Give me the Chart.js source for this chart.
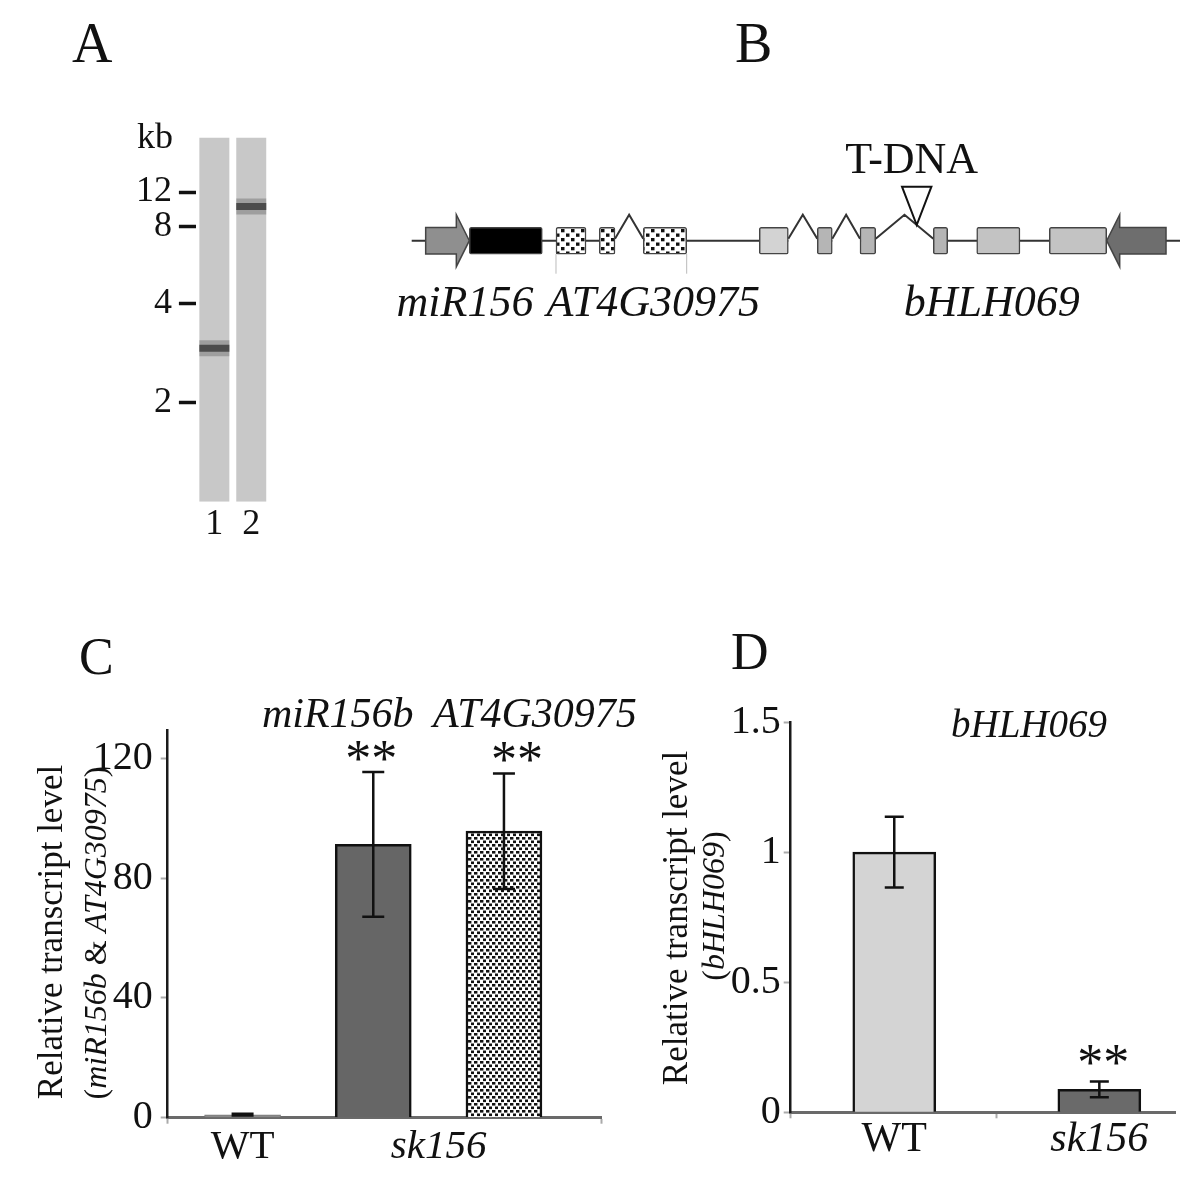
<!DOCTYPE html>
<html>
<head>
<meta charset="utf-8">
<title>sk156 figure</title>
<script src="https://cdn.jsdelivr.net/npm/chart.js@4.4.1/dist/chart.umd.min.js"></script>
<style>
  html, body { margin: 0; padding: 0; background: #fff; }
  body { position: relative; width: 1200px; height: 1203px; overflow: hidden; }
  canvas { position: absolute; }
  .letter { position: absolute; font-family: 'Liberation Serif', 'Times New Roman', serif; color: #111; }
  .big { font-size: 56px; line-height: 56px; }
  .mid { font-size: 52px; line-height: 52px; }
</style>
</head>
<body>
<div class="letter big" style="left:72px; top:15px">A</div>
<div class="letter big" style="left:735px; top:15px">B</div>
<div class="letter mid" style="left:79px; top:631px">C</div>
<div class="letter mid" style="left:731px; top:626px">D</div>

<canvas id="gel" width="200" height="460" style="left:100px; top:100px"></canvas>
<canvas id="locus" width="820" height="220" style="left:380px; top:120px"></canvas>
<canvas id="chartC" width="640" height="583" style="left:0px; top:620px"></canvas>
<canvas id="chartD" width="560" height="583" style="left:640px; top:620px"></canvas>

<script>
const SERIF = "'Liberation Serif', 'Times New Roman', serif";
Chart.defaults.font.family = SERIF;
Chart.defaults.color = '#111';

// ---- A: Southern blot ----
const markerKb = [12, 8, 4, 2];
const markerMigration = [5.45, 8.85, 16.6, 26.45]; // mm from the well
const gelLanes = ['1', '2'];
const bandMigration = [21.05, 6.9];
const laneLength = 36.4;

// ---- B: locus map (relative position, 0-100) ----
const locusLength = 100;
const exonGene = ['miR156', 'AT4G30975', 'AT4G30975', 'AT4G30975',
  'bHLH069', 'bHLH069', 'bHLH069', 'bHLH069', 'bHLH069', 'bHLH069'];
const exonStart = [7.5, 18.78, 24.42, 30.14, 45.24, 52.79, 58.35, 67.89, 73.54, 82.99];
const exonEnd = [17.0, 22.69, 26.46, 35.79, 49.02, 54.74, 60.39, 69.76, 79.17, 90.46];
const intronStart = [26.46, 49.02, 54.74, 60.39];
const intronEnd = [30.14, 52.79, 58.35, 67.89];
const arrowFrom = [1.82, 98.18];
const arrowTo = [7.5, 90.46];
const tdnaSite = 65.73;

// ---- C: miR156b & AT4G30975 ----
const cGenotypes = ['WT', 'sk156', 'sk156'];
const cGenes = ['', 'miR156b', 'AT4G30975'];
const cMeans = [1.0, 91.3, 95.7];
const cErrors = [0.3, 24.2, 19.3];
const cStars = ['', '**', '**'];
const cYTicks = [0, 40, 80, 120];

// ---- D: bHLH069 ----
const dGene = 'bHLH069';
const dGenotypes = ['WT', 'sk156'];
const dMeans = [1.0, 0.088];
const dErrors = [0.136, 0.03];
const dStars = ['', '**'];
const dYTicks = [0, 0.5, 1, 1.5];

// ---------- helpers ----------
function dotPattern(canvasId, w, h, dots, dw, dh) {
  const tile = document.createElement('canvas');
  tile.width = w; tile.height = h;
  const g = tile.getContext('2d');
  g.fillStyle = '#fff';
  g.fillRect(0, 0, w, h);
  g.fillStyle = '#111';
  dots.forEach(([x, y]) => g.fillRect(x, y, dw, dh));
  return document.getElementById(canvasId).getContext('2d').createPattern(tile, 'repeat');
}

function drawVertical(ctx, parts, cx, cy, size) {
  ctx.save();
  ctx.translate(cx, cy);
  ctx.rotate(-Math.PI / 2);
  ctx.textBaseline = 'middle';
  ctx.textAlign = 'left';
  ctx.fillStyle = '#111';
  const fontFor = (p) => `${p[1] ? 'italic ' : ''}${size}px ${SERIF}`;
  let total = 0;
  parts.forEach((p) => { ctx.font = fontFor(p); total += ctx.measureText(p[0]).width; });
  let x = -total / 2;
  parts.forEach((p) => {
    ctx.font = fontFor(p);
    ctx.fillText(p[0], x, 0);
    x += ctx.measureText(p[0]).width;
  });
  ctx.restore();
}

// x axis of the bar panels: tick marks at "marks", genotype names under bar groups
function genotypeAxis(genotypes, min, max, marks, size, padding, height) {
  const groups = {};
  genotypes.forEach((g, i) => { (groups[g] = groups[g] || []).push(i + 1); });
  const labelTicks = Object.keys(groups).map((g) => ({
    value: groups[g].reduce((a, b) => a + b, 0) / groups[g].length,
    label: g,
  }));
  return {
    type: 'linear',
    min, max,
    offset: false,
    afterBuildTicks: (axis) => {
      axis.ticks = marks.map((v) => ({ value: v }))
        .concat(labelTicks.map((t) => ({ value: t.value })))
        .sort((a, b) => a.value - b.value);
    },
    afterFit: (scale) => { scale.height = height; },
    ticks: {
      autoSkip: false,
      maxRotation: 0,
      padding,
      color: '#111',
      callback: (v) => {
        const t = labelTicks.find((lt) => Math.abs(lt.value - v) < 1e-6);
        return t ? t.label : '';
      },
      font: (c) => ({
        family: SERIF,
        size,
        lineHeight: 1,
        style: c.tick && c.tick.label === 'WT' ? 'normal' : 'italic',
      }),
    },
    grid: {
      drawOnChartArea: false,
      offset: false,
      tickLength: 6,
      tickWidth: 2,
      tickColor: (c) => (c.tick && c.tick.label ? 'rgba(0,0,0,0)' : '#aaa'),
    },
    border: { color: '#6a6a6a', width: 3 },
  };
}

function valueAxis(ticks, max, size, padding, width) {
  return {
    min: 0,
    max,
    afterBuildTicks: (axis) => { axis.ticks = ticks.map((v) => ({ value: v })); },
    afterFit: (scale) => { scale.width = width; },
    ticks: { padding, color: '#111', font: { size }, callback: (v) => String(v) },
    grid: { drawOnChartArea: false, tickLength: 7, tickWidth: 2, tickColor: '#aaa' },
    border: { color: '#1a1a1a', width: 2.5 },
  };
}

function errorBars(means, errors, stars, cap, starDx, starDy) {
  return {
    id: 'errorBars',
    afterDatasetsDraw(chart) {
      const { ctx } = chart;
      const y = chart.scales.y;
      const meta = chart.getDatasetMeta(0);
      ctx.save();
      ctx.strokeStyle = '#111';
      ctx.lineWidth = 2.5;
      meta.data.forEach((bar, i) => {
        const top = y.getPixelForValue(means[i] + errors[i]);
        const bottom = y.getPixelForValue(Math.max(means[i] - errors[i], 0));
        ctx.beginPath();
        ctx.moveTo(bar.x, top); ctx.lineTo(bar.x, bottom);
        ctx.moveTo(bar.x - cap / 2, top); ctx.lineTo(bar.x + cap / 2, top);
        ctx.moveTo(bar.x - cap / 2, bottom); ctx.lineTo(bar.x + cap / 2, bottom);
        ctx.stroke();
        if (stars[i]) {
          ctx.fillStyle = '#111';
          ctx.font = `52px ${SERIF}`;
          ctx.textAlign = 'center';
          ctx.textBaseline = 'alphabetic';
          ctx.fillText(stars[i], bar.x + starDx[i], top + starDy);
        }
      });
      ctx.restore();
    },
  };
}

const noChrome = { legend: { display: false }, tooltip: { enabled: false } };

// ---------- A ----------
new Chart(document.getElementById('gel'), {
  type: 'bar',
  data: {
    labels: gelLanes,
    datasets: [
      {
        data: gelLanes.map((_, i) => [bandMigration[i] - 0.35, bandMigration[i] + 0.35]),
        backgroundColor: 'rgba(55,55,55,0.8)',
        grouped: false, barPercentage: 0.813, categoryPercentage: 1,
      },
      {
        data: gelLanes.map((_, i) => [bandMigration[i] - 0.8, bandMigration[i] + 0.8]),
        backgroundColor: 'rgba(80,80,80,0.35)',
        grouped: false, barPercentage: 0.813, categoryPercentage: 1,
      },
      {
        data: gelLanes.map(() => [0, laneLength]),
        backgroundColor: '#c8c8c8',
        grouped: false, barPercentage: 0.813, categoryPercentage: 1,
      },
    ],
  },
  options: {
    responsive: false,
    animation: false,
    layout: { padding: { top: 37.5, right: 30.3, left: 0, bottom: 0 } },
    plugins: noChrome,
    scales: {
      x: {
        afterFit: (scale) => { scale.height = 58.2; },
        grid: { display: false, drawTicks: false },
        border: { display: false },
        ticks: { padding: 5, color: '#111', font: { size: 36, lineHeight: 1 } },
      },
      y: {
        reverse: true,
        min: 0,
        max: laneLength,
        afterBuildTicks: (axis) => { axis.ticks = markerMigration.map((v) => ({ value: v })); },
        afterFit: (scale) => { scale.width = 95.9; },
        ticks: { padding: 7, color: '#111', font: { size: 36 }, callback: (v, i) => String(markerKb[i]) },
        grid: { drawOnChartArea: false, tickLength: 17, tickWidth: 3.5, tickColor: '#111' },
        border: { display: false },
      },
    },
  },
  plugins: [{
    id: 'kbLabel',
    afterDraw(chart) {
      const { ctx } = chart;
      ctx.save();
      ctx.font = `36px ${SERIF}`;
      ctx.fillStyle = '#111';
      ctx.textAlign = 'right';
      ctx.textBaseline = 'alphabetic';
      ctx.fillText('kb', 73, 48);
      ctx.restore();
    },
  }],
});

// ---------- B ----------
const locusDots = dotPattern('locus', 10, 9, [[1, 1], [6, 5.5]], 3.5, 3.3);
const bhlhShades = ['#d3d3d3', '#b5b5b5', '#b5b5b5', '#b5b5b5', '#c3c3c3', '#c3c3c3'];
let bhlhSeen = 0;
const exonFill = exonGene.map((g) => {
  if (g === 'miR156') return '#000';
  if (g === 'AT4G30975') return locusDots;
  return bhlhShades[bhlhSeen++];
});
const arrowFill = ['#8f8f8f', '#6e6e6e'];
const labelShift = { miR156: -19, AT4G30975: 32, bHLH069: 29 };

new Chart(document.getElementById('locus'), {
  type: 'bar',
  data: {
    labels: ['locus'],
    datasets: [{
      data: exonStart.map((s, i) => ({ x: [s, exonEnd[i]], y: 'locus' })),
      backgroundColor: exonFill,
      borderColor: '#444',
      borderWidth: 1.5,
      borderSkipped: false,
      borderRadius: 2,
      barThickness: 26.7,
    }],
  },
  options: {
    indexAxis: 'y',
    responsive: false,
    animation: false,
    layout: { padding: { top: 21.4, right: 20, left: 31.7, bottom: 0 } },
    plugins: noChrome,
    scales: {
      x: { type: 'linear', min: 0, max: locusLength, display: false },
      y: { display: false },
    },
  },
  plugins: [{
    id: 'locusMap',
    beforeDatasetsDraw(chart) {
      const { ctx } = chart;
      const x = (v) => chart.scales.x.getPixelForValue(v);
      const yc = chart.scales.y.getPixelForValue(0);
      ctx.save();
      ctx.strokeStyle = '#333';
      ctx.lineWidth = 2;
      ctx.beginPath();
      let cursor = 0;
      intronStart.forEach((s, i) => {
        ctx.moveTo(x(cursor), yc);
        ctx.lineTo(x(s), yc);
        cursor = intronEnd[i];
      });
      ctx.moveTo(x(cursor), yc);
      ctx.lineTo(x(locusLength), yc);
      intronStart.forEach((s, i) => {
        const a = x(s);
        const b = x(intronEnd[i]);
        ctx.moveTo(a, yc - 2);
        ctx.lineTo((a + b) / 2, yc - 26);
        ctx.lineTo(b, yc - 2);
      });
      ctx.stroke();
      ctx.restore();
    },
    afterDatasetsDraw(chart) {
      const { ctx } = chart;
      const x = (v) => chart.scales.x.getPixelForValue(v);
      const yc = chart.scales.y.getPixelForValue(0);
      ctx.save();
      // promoter arrows
      arrowFrom.forEach((s, i) => {
        const tail = x(s);
        const tip = x(arrowTo[i]);
        const dir = Math.sign(tip - tail);
        const head = tip - dir * 13;
        ctx.beginPath();
        ctx.moveTo(tail, yc - 13.3);
        ctx.lineTo(head, yc - 13.3);
        ctx.lineTo(head, yc - 26);
        ctx.lineTo(tip, yc);
        ctx.lineTo(head, yc + 26);
        ctx.lineTo(head, yc + 13.3);
        ctx.lineTo(tail, yc + 13.3);
        ctx.closePath();
        ctx.fillStyle = arrowFill[i];
        ctx.fill();
        ctx.strokeStyle = '#444';
        ctx.lineWidth = 1.5;
        ctx.stroke();
      });
      // AT4G30975 span guides
      const at4 = exonGene.map((g, i) => (g === 'AT4G30975' ? i : -1)).filter((i) => i >= 0);
      ctx.strokeStyle = '#bbb';
      ctx.lineWidth = 1;
      ctx.beginPath();
      [exonStart[at4[0]], exonEnd[at4[at4.length - 1]]].forEach((v) => {
        ctx.moveTo(x(v), yc + 13.3);
        ctx.lineTo(x(v), yc + 33);
      });
      ctx.stroke();
      // T-DNA insertion
      const t = x(tdnaSite);
      ctx.beginPath();
      ctx.moveTo(t, yc - 15.7);
      ctx.lineTo(t - 14.7, yc - 54);
      ctx.lineTo(t + 14.7, yc - 54);
      ctx.closePath();
      ctx.fillStyle = '#fff';
      ctx.fill();
      ctx.strokeStyle = '#111';
      ctx.lineWidth = 2;
      ctx.stroke();
      ctx.fillStyle = '#111';
      ctx.textAlign = 'center';
      ctx.textBaseline = 'alphabetic';
      ctx.font = `44px ${SERIF}`;
      ctx.fillText('T-DNA', t - 5, yc - 67.7);
      // gene names
      ctx.font = `italic 44px ${SERIF}`;
      [...new Set(exonGene)].forEach((g) => {
        const idx = exonGene.map((e, i) => (e === g ? i : -1)).filter((i) => i >= 0);
        let lo = exonStart[idx[0]];
        let hi = exonEnd[idx[idx.length - 1]];
        arrowFrom.forEach((s, i) => {
          const a = Math.min(s, arrowTo[i]);
          const b = Math.max(s, arrowTo[i]);
          if (Math.abs(b - lo) < 0.01 || Math.abs(a - hi) < 0.01) { lo = Math.min(lo, a); hi = Math.max(hi, b); }
        });
        ctx.fillText(g, (x(lo) + x(hi)) / 2 + labelShift[g], yc + 75.3);
      });
      ctx.restore();
    },
  }],
});

// ---------- C ----------
const cDots = dotPattern('chartC', 6, 7, [[0, 0], [3, 3.5]], 3.4, 2.6);
new Chart(document.getElementById('chartC'), {
  type: 'bar',
  data: {
    datasets: [{
      data: cMeans.map((m, i) => ({ x: i + 1, y: m })),
      backgroundColor: ['#8a8a8a', '#666666', cDots],
      borderColor: ['#7a7a7a', '#111', '#111'],
      borderWidth: [1, 2.5, 2.5],
      barThickness: 76,
    }],
  },
  options: {
    responsive: false,
    animation: false,
    layout: { padding: { top: 110, right: 38.3, left: 0, bottom: 0 } },
    plugins: noChrome,
    scales: {
      x: genotypeAxis(cGenotypes, 0.427, 3.748, [0.427, 3.748], 41, 3, 85.3),
      y: valueAxis(cYTicks, 129.5, 40, 8, 167.7),
    },
  },
  plugins: [
    errorBars(cMeans, cErrors, cStars, 22, [0, -2, 13], 4),
    {
      id: 'cText',
      afterDraw(chart) {
        const { ctx } = chart;
        const meta = chart.getDatasetMeta(0);
        const geneShift = [0, -35.5, 31];
        ctx.save();
        ctx.fillStyle = '#111';
        ctx.textAlign = 'center';
        ctx.textBaseline = 'alphabetic';
        ctx.font = `italic 42px ${SERIF}`;
        cGenes.forEach((g, i) => {
          if (g) ctx.fillText(g, meta.data[i].x + geneShift[i], 107);
        });
        ctx.restore();
        const genes = cGenes.filter((g) => g);
        drawVertical(ctx, [['Relative transcript level', false]], 53, 312, 35);
        drawVertical(ctx, [['(', false], [genes[0], true], [' & ', false], [genes[1], true], [')', false]], 97.5, 313, 32);
      },
    },
  ],
});

// ---------- D ----------
new Chart(document.getElementById('chartD'), {
  type: 'bar',
  data: {
    datasets: [{
      data: dMeans.map((m, i) => ({ x: i + 1, y: m })),
      backgroundColor: ['#d4d4d4', '#6a6a6a'],
      borderColor: '#111',
      borderWidth: 2.5,
      barThickness: 83,
    }],
  },
  options: {
    responsive: false,
    animation: false,
    layout: { padding: { top: 102, right: 25, left: 0, bottom: 0 } },
    plugins: noChrome,
    scales: {
      x: genotypeAxis(dGenotypes, 0.495, 2.369, [0.495, 1.5], 42, 1, 90.7),
      y: valueAxis(dYTicks, 1.5, 40, 3, 150.7),
    },
  },
  plugins: [
    errorBars(dMeans, dErrors, dStars, 19, [0, 4], -2),
    {
      id: 'dText',
      afterDraw(chart) {
        const { ctx } = chart;
        ctx.save();
        ctx.fillStyle = '#111';
        ctx.textAlign = 'center';
        ctx.textBaseline = 'alphabetic';
        ctx.font = `italic 39px ${SERIF}`;
        ctx.fillText(dGene, 389, 117);
        ctx.restore();
        drawVertical(ctx, [['Relative transcript level', false]], 38, 298, 35);
        drawVertical(ctx, [['(', false], [dGene, true], [')', false]], 76, 286, 32);
      },
    },
  ],
});
</script>
</body>
</html>
